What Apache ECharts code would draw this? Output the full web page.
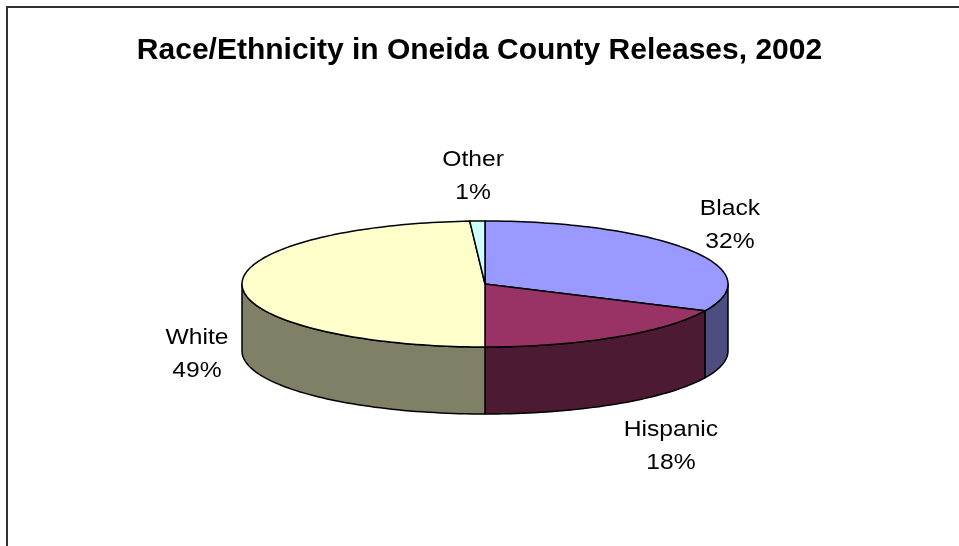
<!DOCTYPE html>
<html>
<head>
<meta charset="utf-8">
<script src="https://cdn.jsdelivr.net/npm/echarts@6/dist/echarts.min.js"></script>
<style>
  html, body { margin: 0; padding: 0; background: #fff; }
  #chart { width: 959px; height: 546px; }
</style>
</head>
<body>
<div id="chart"></div>
<script>
// Share of releases by race/ethnicity (percent)
const categories = ['Black', 'Hispanic', 'White', 'Other'];
const shares = [32, 18, 49, 1];

// Slice colours: top face and darker side wall
const topColors = ['#9999FF', '#993366', '#FFFFCC', '#CCFFFF'];
const sideColors = ['#4D4D80', '#4D1A33', '#808066', '#668080'];

// Label nudges in units of the pie's radii, applied after the mid-angle anchor
const labelNudge = [[-0.005, -0.29], [0.122, 0.50], [0.014, 0.018], [-0.011, -0.507]];

// Pie geometry (pixels)
const PIE = { cx: 485, cy: 284, rx: 243, ry: 63, depth: 67 };

const total = shares.reduce((a, b) => a + b, 0);
const starts = [];
let acc = 0;
shares.forEach(v => { starts.push(acc / total * 360); acc += v; });

function pt(deg, dy) {
  const r = deg * Math.PI / 180;
  return [PIE.cx + PIE.rx * Math.sin(r), PIE.cy - PIE.ry * Math.cos(r) + (dy || 0)];
}
function arc(a0, a1, dy) {
  const pts = [];
  const n = Math.max(2, Math.ceil((a1 - a0) / 1.5));
  for (let i = 0; i <= n; i++) pts.push(pt(a0 + (a1 - a0) * i / n, dy));
  return pts;
}
function sliceRange(i) {
  return [starts[i], starts[i] + shares[i] / total * 360];
}

const seriesData = categories.map((c, i) => ({ name: c, value: shares[i] }));

// Front-facing wall of each slice
function renderSide(params) {
  const i = params.dataIndex;
  const [a0, a1] = sliceRange(i);
  const s = Math.max(a0, 90), e = Math.min(a1, 270);
  if (s >= e) return { type: 'group', children: [] };
  const top = arc(s, e, 0);
  const bottom = arc(s, e, PIE.depth).reverse();
  return {
    type: 'polygon',
    shape: { points: top.concat(bottom) },
    style: { fill: sideColors[i], stroke: '#000', lineWidth: 1.5, lineJoin: 'round' }
  };
}

// Top face of each slice plus its category / percent label
function renderTop(params) {
  const i = params.dataIndex;
  const [a0, a1] = sliceRange(i);
  const pts = [[PIE.cx, PIE.cy]].concat(arc(a0, a1, 0));
  const mid = (a0 + a1) / 2 * Math.PI / 180;
  let u = 1.2 * Math.sin(mid), v = -1.2 * Math.cos(mid);
  if (Math.cos(mid) < 0) v += PIE.depth / PIE.ry;
  u += labelNudge[i][0];
  v += labelNudge[i][1];
  return {
    type: 'group',
    children: [
      {
        type: 'polygon',
        shape: { points: pts },
        style: { fill: topColors[i], stroke: '#000', lineWidth: 1.5, lineJoin: 'round' }
      },
      {
        type: 'text',
        x: PIE.cx + u * PIE.rx,
        y: PIE.cy + v * PIE.ry,
        scaleX: 1.12,
        style: {
          text: categories[i] + '\n' + Math.round(shares[i] / total * 100) + '%',
          fontFamily: '"Liberation Sans", Arial, sans-serif',
          fontSize: 22,
          lineHeight: 33,
          fill: '#000',
          align: 'center',
          verticalAlign: 'middle'
        }
      }
    ]
  };
}

const chart = echarts.init(document.getElementById('chart'), null, { renderer: 'canvas' });
chart.setOption({
  backgroundColor: '#ffffff',
  animation: false,
  title: {
    text: 'Race/Ethnicity in Oneida County Releases, 2002',
    left: 'center',
    top: 31,
    textStyle: {
      fontFamily: '"Liberation Sans", Arial, sans-serif',
      fontWeight: 'bold',
      fontSize: 30,
      color: '#000'
    }
  },
  graphic: [{
    type: 'rect',
    shape: { x: 7, y: 7, width: 1000, height: 600 },
    style: { fill: 'none', stroke: '#333', lineWidth: 2 },
    silent: true
  }],
  series: [
    { type: 'custom', coordinateSystem: 'none', z: 1, renderItem: renderSide, data: seriesData },
    { type: 'custom', coordinateSystem: 'none', z: 2, renderItem: renderTop, data: seriesData }
  ]
});
</script>
</body>
</html>
